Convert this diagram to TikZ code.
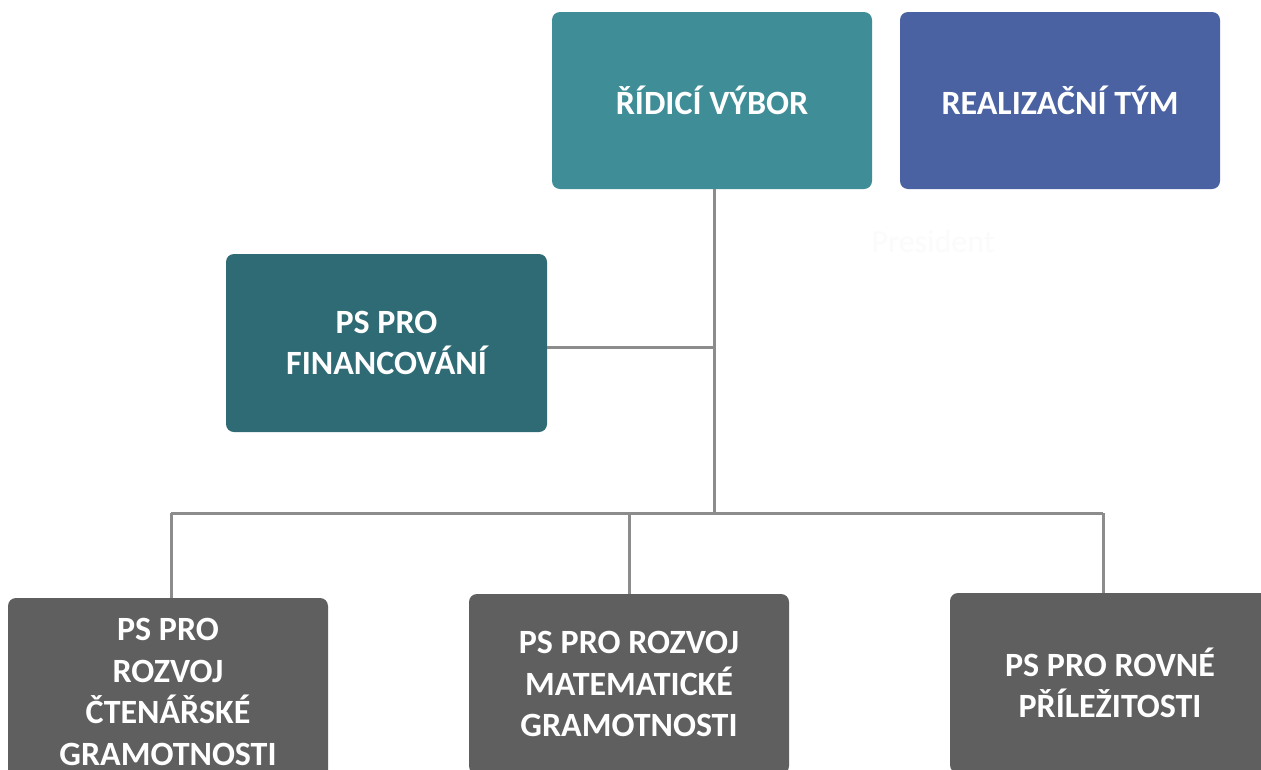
\documentclass[tikz,border=0pt]{standalone}
\usepackage{fontspec}
\setmainfont{Carlito}
\definecolor{cteal}{HTML}{3F8D96}
\definecolor{cblue}{HTML}{4A62A2}
\definecolor{cdark}{HTML}{2E6B74}
\definecolor{cgray}{HTML}{5F5F5F}
\definecolor{cline}{HTML}{8C8C8C}
\definecolor{cghost}{HTML}{FBFBFB}
\begin{document}
\begin{tikzpicture}[x=1pt,y=-1pt,
  box/.style={rounded corners=8pt, draw=none, text=white, align=center,
    font=\fontsize{34}{41.5}\selectfont\bfseries, inner sep=0pt},
  conn/.style={draw=cline, line width=3pt}]
\useasboundingbox (0,0) rectangle (1261,769);
\fill[white] (0,0) rectangle (1261,769);
\begin{scope}
\clip (0,0) rectangle (1261,769);
\node[box, fill=cteal, minimum width=320pt, minimum height=177pt] (rv) at (712,100.5) {ŘÍDICÍ VÝBOR};
\node[box, fill=cblue, minimum width=320pt, minimum height=177pt] (rt) at (1060,100.5) {REALIZAČNÍ TÝM};
\node[text=cghost, font=\fontsize{32}{38}\selectfont] (pres) at (933,242) {President};
\node[box, fill=cdark, minimum width=321pt, minimum height=178pt] (fin) at (386.5,343) {PS PRO\\FINANCOVÁNÍ};
\node[box, fill=cgray, minimum width=320pt, minimum height=188pt] (b1) at (168,692) {PS PRO\\ROZVOJ\\ČTENÁŘSKÉ\\GRAMOTNOSTI};
\node[box, fill=cgray, minimum width=320pt, minimum height=180pt] (b2) at (629,684) {PS PRO ROZVOJ\\MATEMATICKÉ\\GRAMOTNOSTI};
\node[box, fill=cgray, minimum width=320pt, minimum height=180pt] (b3) at (1110,683) {PS PRO ROVNÉ\\PŘÍLEŽITOSTI};
\end{scope}
\coordinate (j1) at (714,347);
\coordinate (j2) at (714,513);
\coordinate (bl) at (171,513);
\coordinate (bm) at (629,513);
\coordinate (br) at (1103,513);
\draw[conn] (rv.south -| j2) -- (j2);
\draw[conn] (j1 -| fin.east) -- (j1);
\draw[conn] (bl) -- (br);
\draw[conn] (bl) -- (bl |- b1.north);
\draw[conn] (bm) -- (bm |- b2.north);
\draw[conn] (br) -- (br |- b3.north);
\end{tikzpicture}
\end{document}
